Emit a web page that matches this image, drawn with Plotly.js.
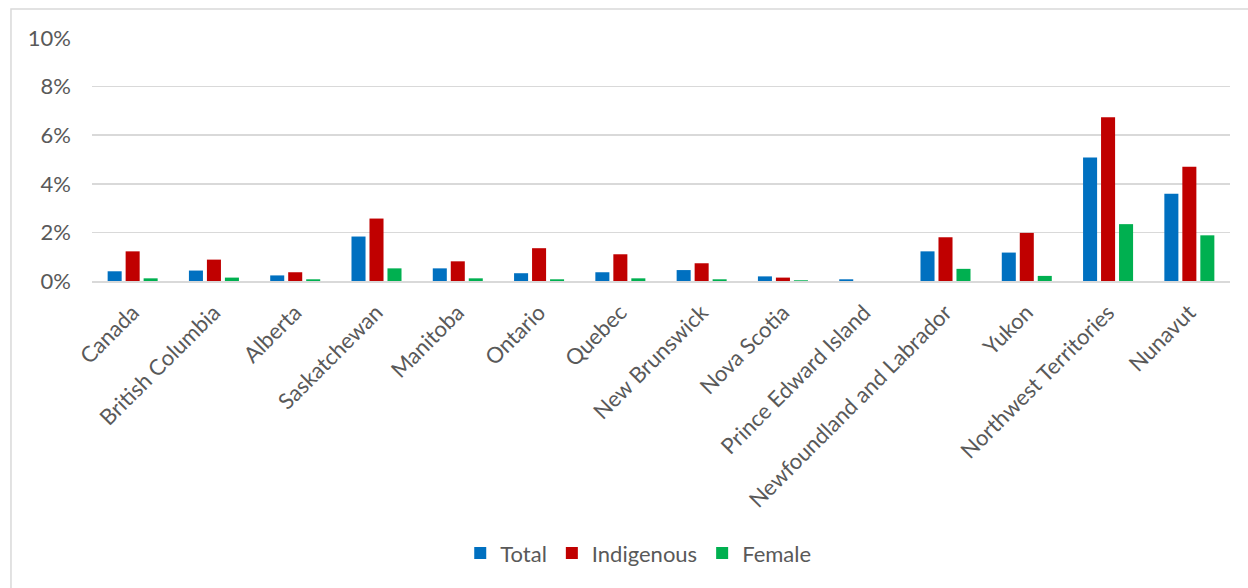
<!DOCTYPE html>
<html>
<head>
<meta charset="utf-8">
<script src="https://cdn.plot.ly/plotly-3.0.1.min.js"></script>
<style>
  html, body { margin: 0; padding: 0; background: #ffffff; }
  #chart { width: 1248px; height: 588px; }
</style>
</head>
<body>
<div id="chart"></div>
<script>
// Provinces and territories along the x axis
const regions = [
  "Canada", "British Columbia", "Alberta", "Saskatchewan", "Manitoba",
  "Ontario", "Quebec", "New Brunswick", "Nova Scotia", "Prince Edward Island",
  "Newfoundland and Labrador", "Yukon", "Northwest Territories", "Nunavut"
];

// Shares (fractions) for each group
const totalShare = [0.0040, 0.0043, 0.0023, 0.0183, 0.0052, 0.0032, 0.0036, 0.0045, 0.0019, 0.0007, 0.0122, 0.0117, 0.0508, 0.0359];
const indigenousShare = [0.0122, 0.0088, 0.0036, 0.0257, 0.0081, 0.0135, 0.0110, 0.0073, 0.0014, 0.0000, 0.0180, 0.0198, 0.0674, 0.0470];
const femaleShare = [0.0011, 0.0014, 0.0007, 0.0052, 0.0011, 0.0007, 0.0011, 0.0007, 0.0003, 0.0000, 0.0050, 0.0021, 0.0234, 0.0188];

const yTicks = [0, 0.02, 0.04, 0.06, 0.08, 0.10];
const yTickText = ["0%", "2%", "4%", "6%", "8%", "10%"];

const FONT = "Lato, 'Open Sans', sans-serif";
const TEXT = "#595959";

function series(name, values, color) {
  return {
    type: "bar",
    name: name,
    x: regions,
    y: values,
    marker: { color: color },
    hoverinfo: "x+y+name"
  };
}

const data = [
  series("Total", totalShare, "#0070C0"),
  series("Indigenous", indigenousShare, "#C00000"),
  series("Female", femaleShare, "#00B050")
];

const layout = {
  width: 1248,
  height: 588,
  margin: { l: 92, r: 18, t: 38, b: 307 },
  paper_bgcolor: "#ffffff",
  plot_bgcolor: "#ffffff",
  font: { family: FONT, size: 22, color: TEXT },
  barmode: "group",
  bargap: 0.336,
  bargroupgap: 0.22,
  showlegend: true,
  legend: {
    orientation: "h",
    x: 0.48, xanchor: "center",
    y: -1.12, yanchor: "middle",
    font: { family: FONT, size: 22, color: TEXT },
    itemwidth: 30,
    traceorder: "normal"
  },
  xaxis: {
    type: "category",
    tickangle: -45,
    showgrid: false,
    showline: true,
    linecolor: "#d9d9d9",
    linewidth: 2,
    ticks: "",
    ticklabelstandoff: 8,
    tickfont: { family: FONT, size: 22, color: TEXT },
    automargin: false
  },
  yaxis: {
    range: [0, 0.10],
    tickvals: yTicks,
    ticktext: yTickText,
    showgrid: true,
    gridcolor: "#d9d9d9",
    gridwidth: 1.5,
    zeroline: false,
    showline: false,
    ticks: "",
    ticklabelstandoff: 20,
    tickfont: { family: FONT, size: 22, color: TEXT },
    automargin: false,
    fixedrange: true
  },
  shapes: [
    {
      // chart frame: left and top edges
      type: "path",
      xref: "paper", yref: "paper",
      path: "M -0.0712,-2 L -0.0712,1.119 L 1.2,1.119",
      line: { color: "#d9d9d9", width: 1.5 }
    }
  ]
};

Plotly.newPlot("chart", data, layout, { displayModeBar: false, staticPlot: true });
</script>
</body>
</html>
